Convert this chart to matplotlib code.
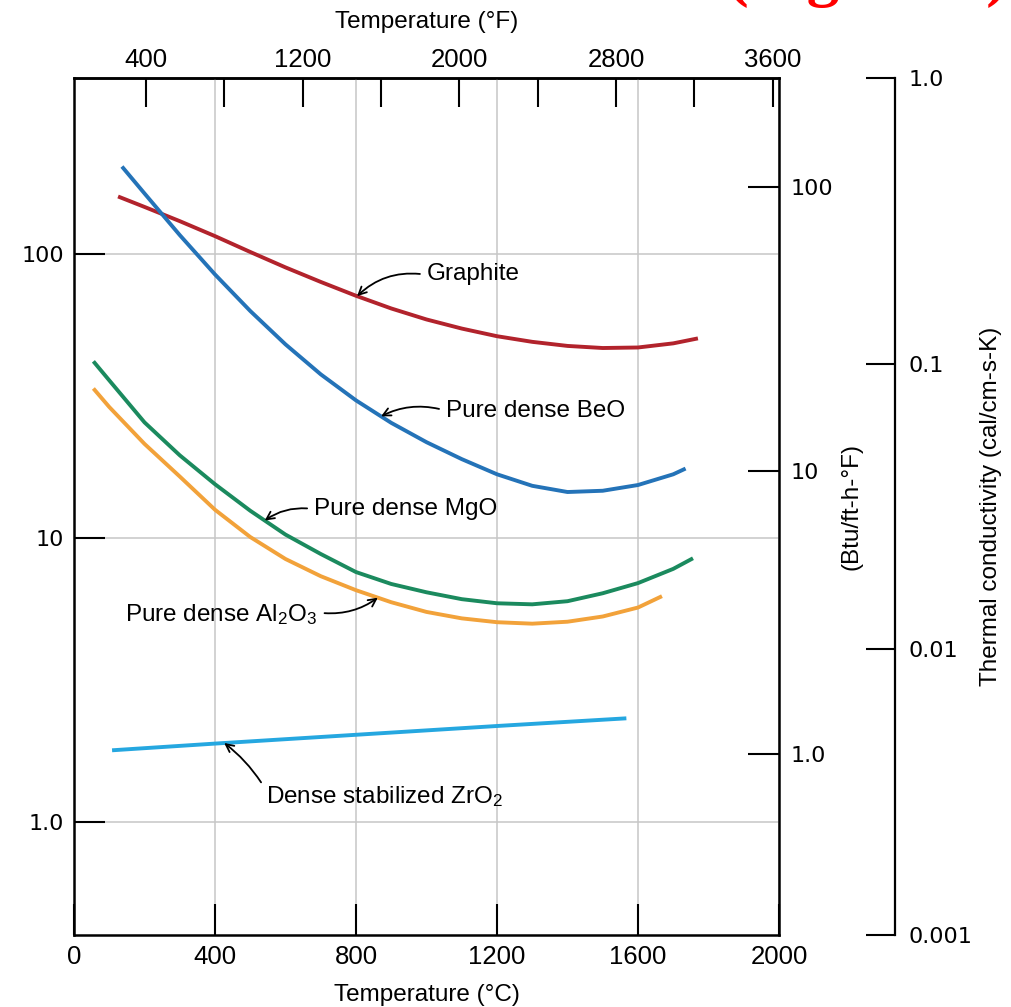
import numpy as np
import matplotlib
matplotlib.use("Agg")
import matplotlib.pyplot as plt
from matplotlib.ticker import FixedLocator, FixedFormatter, NullLocator

# ---------------- data (thermal conductivity in W/m-K vs temperature in degC) ----
graphite_T = [125, 200, 300, 400, 500, 600, 700, 800, 900, 1000, 1100, 1200,
              1300, 1400, 1500, 1600, 1700, 1770]
graphite_k = [160, 147, 131, 116, 102, 90, 80, 71.5, 64.5, 59, 54.8, 51.5,
              49.2, 47.6, 46.8, 47.0, 48.6, 50.6]

beo_T = [136, 200, 300, 400, 500, 600, 700, 800, 900, 1000, 1100, 1200,
         1300, 1400, 1500, 1600, 1700, 1735]
beo_k = [204, 164, 117, 85, 63.2, 48.2, 37.8, 30.6, 25.5, 21.8, 19.0, 16.8,
         15.3, 14.55, 14.7, 15.4, 16.8, 17.6]

mgo_T = [55, 100, 200, 300, 400, 500, 600, 700, 800, 900, 1000, 1100, 1200,
         1300, 1400, 1500, 1600, 1700, 1756]
mgo_k = [42, 36, 25.6, 19.6, 15.5, 12.5, 10.3, 8.8, 7.6, 6.9, 6.45, 6.1, 5.9,
         5.85, 6.0, 6.4, 6.95, 7.8, 8.5]

al2o3_T = [55, 100, 200, 300, 400, 500, 600, 700, 800, 900, 1000, 1100, 1200,
           1300, 1400, 1500, 1600, 1668]
al2o3_k = [33.7, 29, 21.5, 16.5, 12.6, 10.1, 8.45, 7.35, 6.56, 5.95, 5.5, 5.22,
           5.06, 5.0, 5.08, 5.3, 5.7, 6.25]

zro2_T = [108, 400, 800, 1200, 1567]
zro2_k = [1.79, 1.89, 2.03, 2.18, 2.32]

x_ticks_C = [0, 400, 800, 1200, 1600, 2000]
x_ticklabels_C = ["0", "400", "800", "1200", "1600", "2000"]
top_ticks_F = [400, 800, 1200, 1600, 2000, 2400, 2800, 3200, 3600]
top_ticklabels_F = ["400", "", "1200", "", "2000", "", "2800", "", "3600"]
y_ticks_W = [1, 10, 100]
y_ticklabels_W = ["1.0", "10", "100"]
btu_ticks = [1, 10, 100]
btu_ticklabels = ["1.0", "10", "100"]
cal_ticks = [0.001, 0.01, 0.1, 1.0]
cal_ticklabels = ["0.001", "0.01", "0.1", "1.0"]

W_TO_BTU = 0.5779      # 1 W/m-K = 0.5779 Btu/ft-h-F

# ---------------- style ----------------
plt.rcParams["font.family"] = ["Liberation Sans", "DejaVu Sans"]
plt.rcParams["mathtext.fontset"] = "custom"
plt.rcParams["mathtext.rm"] = "Liberation Sans"
plt.rcParams["mathtext.it"] = "Liberation Sans:italic"
plt.rcParams["mathtext.bf"] = "Liberation Sans:bold"

TXT = 17.5
TICK_WIDE = 16
TICK_NARROW = 18.5

fig = plt.figure(figsize=(10.12, 10.07), dpi=100)
L, R, B, T = 74 / 1012, 779 / 1012, 1 - 935 / 1007, 1 - 78 / 1007
ax = fig.add_axes([L, B, R - L, T - B])
ax.set_yscale("log")
ax.set_xlim(0, 2000)
ax.set_ylim(0.40, 418.4)

ax.xaxis.set_major_locator(FixedLocator(x_ticks_C))
ax.xaxis.set_major_formatter(FixedFormatter(x_ticklabels_C))
ax.yaxis.set_major_locator(FixedLocator(y_ticks_W))
ax.yaxis.set_major_formatter(FixedFormatter(y_ticklabels_W))
ax.yaxis.set_minor_locator(NullLocator())
ax.grid(True, which="major", color="#c6c6c6", lw=1.1)
ax.tick_params(axis="both", direction="in", length=22, width=1.5, color="black")
ax.tick_params(axis="x", labelsize=TICK_NARROW, pad=7)
ax.tick_params(axis="y", labelsize=TICK_WIDE, pad=7)
for lab in ax.get_yticklabels():
    lab.set_fontfamily("DejaVu Sans")
for sp in ax.spines.values():
    sp.set_linewidth(1.8)

# curves
line_kw = dict(lw=2.8, solid_capstyle="butt", solid_joinstyle="round")
ax.plot(graphite_T, graphite_k, color="#b2232c", **line_kw)
ax.plot(beo_T, beo_k, color="#2473b8", **line_kw)
ax.plot(mgo_T, mgo_k, color="#1b8a5e", **line_kw)
ax.plot(al2o3_T, al2o3_k, color="#f2a23a", **line_kw)
ax.plot(zro2_T, zro2_k, color="#25a7e0", **line_kw)


def on_curve(T, Ts, ks):
    return float(np.exp(np.interp(T, Ts, np.log(ks))))


arrow_kw = dict(arrowstyle="->", color="black", lw=1.3, shrinkA=3, shrinkB=0,
                mutation_scale=14)

ax.annotate("Graphite", xy=(803, on_curve(803, graphite_T, graphite_k)),
            xytext=(1001, 81.4), ha="left", va="baseline", fontsize=TXT,
            arrowprops=dict(connectionstyle="arc3,rad=0.25", relpos=(0, 0.45), **arrow_kw))
ax.annotate("Pure dense BeO", xy=(871, on_curve(871, beo_T, beo_k)),
            xytext=(1055, 26.8), ha="left", va="baseline", fontsize=TXT,
            arrowprops=dict(connectionstyle="arc3,rad=0.2", relpos=(0, 0.5), **arrow_kw))
ax.annotate("Pure dense MgO", xy=(541, on_curve(541, mgo_T, mgo_k)),
            xytext=(681, 12.06), ha="left", va="baseline", fontsize=TXT,
            arrowprops=dict(connectionstyle="arc3,rad=0.2", relpos=(0, 0.5), **arrow_kw))
ax.annotate("Pure dense Al$_2$O$_3$", xy=(862, on_curve(862, al2o3_T, al2o3_k)),
            xytext=(145, 5.09), ha="left", va="baseline", fontsize=TXT,
            arrowprops=dict(connectionstyle="arc3,rad=0.2", relpos=(1, 0.6), **arrow_kw))
ax.annotate("Dense stabilized ZrO$_2$", xy=(426, on_curve(426, zro2_T, zro2_k)),
            xytext=(545, 1.165), ha="left", va="baseline", fontsize=TXT,
            arrowprops=dict(connectionstyle="arc3,rad=0.1", relpos=(0, 0.75), **arrow_kw))

ax.set_xlabel("Temperature (\u00b0C)", fontsize=TXT)
ax.xaxis.set_label_coords(0.5, -0.057)

# top Fahrenheit axis
secx = ax.secondary_xaxis("top", functions=(lambda c: c * 9 / 5 + 32,
                                             lambda f: (f - 32) * 5 / 9))
secx.xaxis.set_major_locator(FixedLocator(top_ticks_F))
secx.xaxis.set_major_formatter(FixedFormatter(top_ticklabels_F))
secx.xaxis.set_minor_locator(NullLocator())
secx.tick_params(axis="x", direction="in", length=21, width=1.5,
                 labelsize=TICK_NARROW, pad=4)
secx.spines["top"].set_linewidth(1.8)
secx.set_xlabel("Temperature (\u00b0F)", fontsize=TXT, labelpad=15)

# Btu/ft-h-F axis (on main right spine)
ax_btu = ax.twinx()
ax_btu.set_yscale("log")
ax_btu.set_ylim(0.40 * W_TO_BTU, 418.4 * W_TO_BTU)
ax_btu.yaxis.set_major_locator(FixedLocator(btu_ticks))
ax_btu.yaxis.set_major_formatter(FixedFormatter(btu_ticklabels))
ax_btu.yaxis.set_minor_locator(NullLocator())
ax_btu.tick_params(axis="y", direction="in", length=22, width=1.5,
                   labelsize=TICK_WIDE, pad=8)
for lab in ax_btu.get_yticklabels():
    lab.set_fontfamily("DejaVu Sans")
for sp in ax_btu.spines.values():
    sp.set_visible(False)
ax_btu.set_ylabel("(Btu/ft-h-\u00b0F)", fontsize=TXT)
ax_btu.yaxis.set_label_coords((852 - 74) / 705, 0.5)
ax_btu.yaxis.label.set_va("center")
ax_btu.yaxis.label.set_ha("center")
ax_btu.yaxis.label.set_rotation(90)

# cal/cm-s-K axis (detached spine)
ax_cal = ax.twinx()
ax_cal.set_yscale("log")
ax_cal.set_ylim(0.001, 1.0)
ax_cal.spines["right"].set_position(("outward", 116 * 72 / 100))
for k in ("left", "top", "bottom"):
    ax_cal.spines[k].set_visible(False)
ax_cal.spines["right"].set_linewidth(1.6)
ax_cal.yaxis.set_major_locator(FixedLocator(cal_ticks))
ax_cal.yaxis.set_major_formatter(FixedFormatter(cal_ticklabels))
ax_cal.yaxis.set_minor_locator(NullLocator())
ax_cal.tick_params(axis="y", direction="in", length=21, width=1.5,
                   labelsize=TICK_WIDE, pad=10)
for lab in ax_cal.get_yticklabels():
    lab.set_fontfamily("DejaVu Sans")
ax_cal.set_ylabel("Thermal conductivity (cal/cm-s-K)", fontsize=TXT)
ax_cal.yaxis.set_label_coords((991 - 74) / 705, 0.5)
ax_cal.yaxis.label.set_va("center")
ax_cal.yaxis.label.set_ha("center")
ax_cal.yaxis.label.set_rotation(90)

# red caption, cut by the top edge as in the reference
fig.text(727 / 1012, 1 + 6 / 1007, "(Fig. 19.4)", color="red", fontsize=47,
         fontweight="bold", family="Liberation Serif", ha="left", va="baseline")

fig.savefig("out.png", dpi=100)
